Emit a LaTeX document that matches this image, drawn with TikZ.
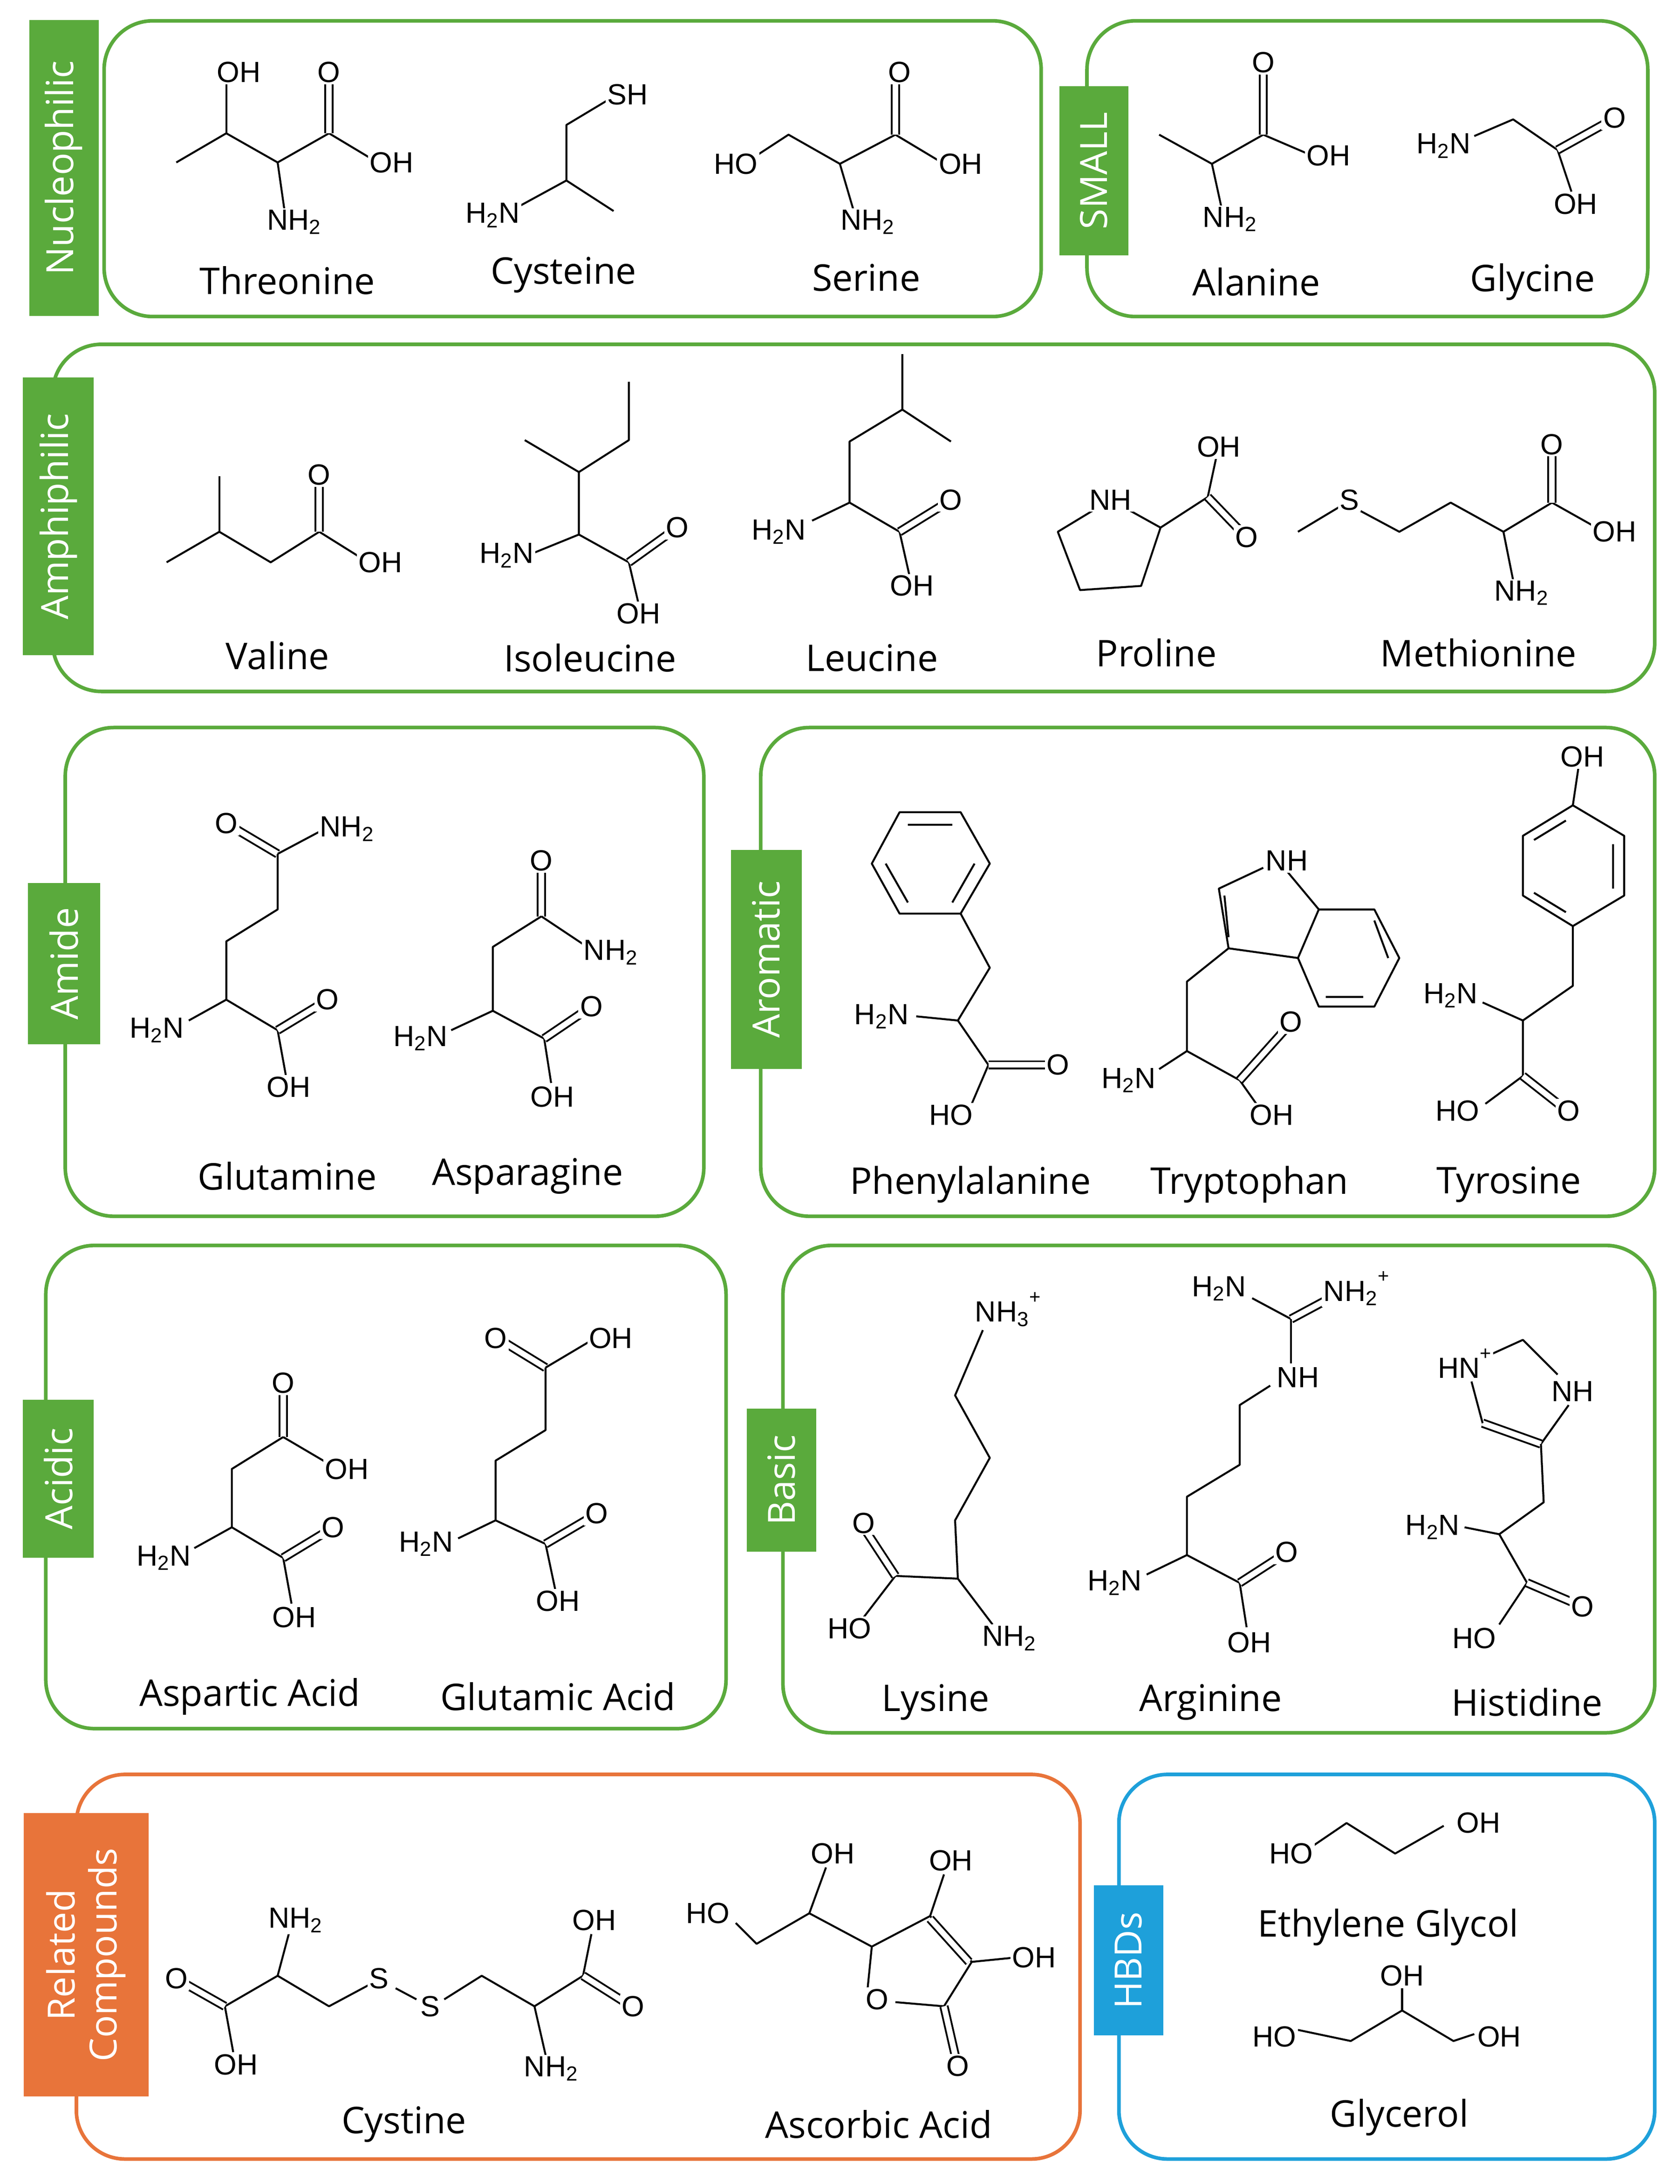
\documentclass[tikz,border=0pt]{standalone}
\usepackage{fontspec}
\setmainfont{Liberation Sans}
\newfontfamily\namefont{Open Sans}
\definecolor{grn}{RGB}{90,170,60}
\definecolor{org}{RGB}{232,116,58}
\definecolor{blu}{RGB}{30,160,218}
\newcommand{\sub}[1]{\textsubscript{#1}}
\begin{document}
\begin{tikzpicture}[x=1pt,y=-1pt,
  box/.style={draw=grn,line width=2.6pt,rounded corners=35pt},
  tag/.style={fill=grn,text=white,rotate=90,inner sep=0pt,font=\namefont\fontsize{27}{30}\selectfont},
  bond/.style={line width=1.4pt,line join=round},
  dbl/.style={line width=1.3pt,double distance=4pt},
  atom/.style={fill=white,inner sep=1.2pt,font=\fontsize{21}{22}\selectfont},
  lbl/.style={font=\namefont\fontsize{26.5}{28}\selectfont}]
\useasboundingbox (0,0) rectangle (1210,1573);

% boxes and tags
\draw[box] (75,15) rectangle (750,228);
\draw[box] (783,15) rectangle (1187,228);
\draw[box] (38,248) rectangle (1192,498);
\draw[box] (47,524) rectangle (507,876);
\draw[box] (548,524) rectangle (1192,876);
\draw[box] (33,897) rectangle (523,1245);
\draw[box] (564,897) rectangle (1192,1248);
\draw[box,draw=org] (55,1278) rectangle (778,1555);
\draw[box,draw=blu] (806,1278) rectangle (1192,1555);
\node[tag,minimum width=213pt,minimum height=50pt] (tNuc) at (46,121) {Nucleophilic};
\node[tag,minimum width=122pt,minimum height=50pt] (tSma) at (788,123) {SMALL};
\node[tag,minimum width=200pt,minimum height=51pt] (tAmp) at (42,372) {Amphiphilic};
\node[tag,minimum width=116pt,minimum height=52pt] (tAmi) at (46,694) {Amide};
\node[tag,minimum width=158pt,minimum height=51pt] (tAro) at (552,691) {Aromatic};
\node[tag,minimum width=114pt,minimum height=51pt] (tAci) at (42,1065) {Acidic};
\node[tag,minimum width=103pt,minimum height=50pt] (tBas) at (563,1066) {Basic};
\node[tag,fill=org,minimum width=204pt,minimum height=90pt,align=center] (tRel) at (62,1408) {Related\\Compounds};
\node[tag,fill=blu,minimum width=108pt,minimum height=50pt] (tHbd) at (813,1412) {HBDs};

% Threonine
\draw[bond] (127,117)--(163,96)--(200,117)--(237,96)--(272,117);
\draw[bond] (163,96)--(163,58); \draw[bond] (200,117)--(205,152);
\draw[dbl] (237,96)--(237,55);
\node[atom] (thrOH) at (172,52) {OH}; \node[atom] (thrO) at (237,52) {O};
\node[atom] (thrOH2) at (282,117) {OH}; \node[atom] (thrN) at (212,160) {NH\sub2};
\node[lbl] (thr) at (207,202) {Threonine};
% Cysteine
\draw[bond] (375,148)--(408,130)--(442,152); \draw[bond] (408,130)--(408,90)--(438,72);
\node[atom] (cysS) at (452,68) {SH}; \node[atom] (cysN) at (355,155) {H\sub2N};
\node[lbl] (cys) at (406,198) {Cysteine};
% Serine
\draw[bond] (545,112)--(568,97)--(605,118)--(645,97)--(680,118);
\draw[bond] (605,118)--(615,152); \draw[dbl] (645,97)--(645,55);
\node[atom] (serHO) at (530,118) {HO}; \node[atom] (serO) at (648,52) {O};
\node[atom] (serOH) at (692,118) {OH}; \node[atom] (serN) at (625,160) {NH\sub2};
\node[lbl] (ser) at (624,200) {Serine};
% Alanine
\draw[bond] (835,97)--(873,118)--(910,97)--(945,112); \draw[bond] (873,118)--(880,150);
\draw[dbl] (910,97)--(910,48);
\node[atom] (alaO) at (910,45) {O}; \node[atom] (alaOH) at (957,112) {OH};
\node[atom] (alaN) at (886,158) {NH\sub2};
\node[lbl] (ala) at (905,203) {Alanine};
% Glycine
\draw[bond] (1062,98)--(1090,86)--(1122,108)--(1132,138); \draw[dbl] (1122,108)--(1158,88);
\node[atom] (glyN) at (1040,105) {H\sub2N}; \node[atom] (glyO) at (1163,85) {O};
\node[atom] (glyOH) at (1135,147) {OH};
\node[lbl] (gly) at (1104,203) {Glycine};

% Valine
\draw[bond] (120,405)--(158,383)--(195,405)--(230,383)--(262,403); \draw[bond] (158,383)--(158,343);
\draw[dbl] (230,383)--(230,345);
\node[atom] (valO) at (230,342) {O}; \node[atom] (valOH) at (274,405) {OH};
\node[lbl] (val) at (200,472) {Valine};
% Isoleucine
\draw[bond] (378,317)--(417,340)--(453,317)--(453,275); \draw[bond] (417,340)--(417,385)--(453,405)--(460,435);
\draw[bond] (417,385)--(385,398); \draw[dbl] (453,405)--(485,382);
\node[atom] (ileN) at (365,400) {H\sub2N}; \node[atom] (ileO) at (488,380) {O};
\node[atom] (ileOH) at (460,442) {OH};
\node[lbl] (ile) at (425,474) {Isoleucine};
% Leucine
\draw[bond] (650,255)--(650,295)--(685,318); \draw[bond] (650,295)--(612,318)--(612,362)--(648,383)--(655,414);
\draw[bond] (612,362)--(585,375); \draw[dbl] (648,383)--(682,362);
\node[atom] (leuN) at (561,383) {H\sub2N}; \node[atom] (leuO) at (685,360) {O};
\node[atom] (leuOH) at (657,422) {OH};
\node[lbl] (leu) at (628,474) {Leucine};
% Proline
\draw[bond] (800,360)--(836,380)--(822,422)--(778,425)--(762,383)--(800,360);
\draw[bond] (836,380)--(870,358)--(876,330); \draw[dbl] (870,358)--(896,385);
\node[atom] (proN) at (800,360) {NH}; \node[atom] (proOH) at (878,322) {OH};
\node[atom] (proO) at (898,387) {O};
\node[lbl] (pro) at (833,470) {Proline};
% Methionine
\draw[bond] (935,383)--(965,365); \draw[bond] (980,368)--(1008,383)--(1045,362)--(1083,383)--(1118,362)--(1150,380);
\draw[bond] (1083,383)--(1090,418); \draw[dbl] (1118,362)--(1118,324);
\node[atom] (metS) at (972,360) {S}; \node[atom] (metO) at (1118,320) {O};
\node[atom] (metOH) at (1163,383) {OH}; \node[atom] (metN) at (1096,427) {NH\sub2};
\node[lbl] (met) at (1065,470) {Methionine};

% Glutamine
\draw[dbl] (200,615)--(168,596); \draw[bond] (200,615)--(232,598);
\draw[bond] (200,615)--(200,655)--(163,678)--(163,720)--(200,742)--(206,775); \draw[bond] (163,720)--(136,735);
\draw[dbl] (200,742)--(233,722);
\node[atom] (glnO) at (163,593) {O}; \node[atom] (glnN) at (250,597) {NH\sub2};
\node[atom] (glnN2) at (113,742) {H\sub2N}; \node[atom] (glnO2) at (236,720) {O};
\node[atom] (glnOH) at (208,783) {OH};
\node[lbl] (gln) at (207,847) {Glutamine};
% Asparagine
\draw[dbl] (390,660)--(390,625); \draw[bond] (390,660)--(420,680);
\draw[bond] (390,660)--(355,682)--(355,728)--(392,748)--(397,780); \draw[bond] (355,728)--(325,742);
\draw[dbl] (392,748)--(423,727);
\node[atom] (asnO) at (390,620) {O}; \node[atom] (asnN) at (440,686) {NH\sub2};
\node[atom] (asnN2) at (303,748) {H\sub2N}; \node[atom] (asnO2) at (426,725) {O};
\node[atom] (asnOH) at (398,790) {OH};
\node[lbl] (asn) at (380,847) {Asparagine};

% Phenylalanine
\draw[bond] (648,585)--(692,585)--(713,622)--(692,658)--(648,658)--(628,622)--cycle;
\draw[bond] (654,594)--(686,594) (702,622)--(686,650) (654,650)--(638,622);
\draw[bond] (692,658)--(713,697)--(690,735)--(712,767)--(700,795); \draw[bond] (690,735)--(660,732);
\draw[dbl] (712,767)--(755,767);
\node[atom] (pheN) at (635,732) {H\sub2N}; \node[atom] (pheO) at (762,767) {O};
\node[atom] (pheHO) at (685,803) {HO};
\node[lbl] (phe) at (699,853) {Phenylalanine};
% Tryptophan
\draw[bond] (925,625)--(950,655)--(935,690)--(885,683)--(878,640)--(910,625);
\draw[bond] (885,675)--(882,645);
\draw[bond] (950,655)--(990,655)--(1008,690)--(990,725)--(950,725)--(935,690);
\draw[bond] (990,663)--(1000,690) (982,718)--(955,718);
\draw[bond] (885,683)--(855,707)--(855,757)--(893,778)--(905,795); \draw[bond] (855,757)--(835,770);
\draw[dbl] (893,778)--(927,740);
\node[atom] (trpN) at (927,620) {NH}; \node[atom] (trpN2) at (813,778) {H\sub2N};
\node[atom] (trpO) at (930,736) {O}; \node[atom] (trpOH) at (916,803) {OH};
\node[lbl] (trp) at (900,853) {Tryptophan};
% Tyrosine
\draw[bond] (1133,580)--(1170,602)--(1170,645)--(1133,667)--(1097,645)--(1097,602)--cycle;
\draw[bond] (1162,608)--(1162,640) (1128,657)--(1105,643) (1105,605)--(1128,591);
\draw[bond] (1133,580)--(1137,553); \draw[bond] (1133,667)--(1133,710)--(1097,735)--(1097,775)--(1070,795);
\draw[bond] (1097,735)--(1068,722); \draw[dbl] (1097,775)--(1125,797);
\node[atom] (tyrOH) at (1140,545) {OH}; \node[atom] (tyrN) at (1045,717) {H\sub2N};
\node[atom] (tyrO) at (1130,800) {O}; \node[atom] (tyrHO) at (1050,800) {HO};
\node[lbl] (tyr) at (1087,853) {Tyrosine};

% Aspartic acid
\draw[dbl] (204,1035)--(204,1000); \draw[bond] (204,1035)--(238,1055);
\draw[bond] (204,1035)--(167,1058)--(167,1100)--(204,1122)--(210,1155); \draw[bond] (167,1100)--(140,1115);
\draw[dbl] (204,1122)--(237,1102);
\node[atom] (aspO) at (204,996) {O}; \node[atom] (aspOH) at (250,1058) {OH};
\node[atom] (aspN) at (118,1122) {H\sub2N}; \node[atom] (aspO2) at (240,1100) {O};
\node[atom] (aspOH2) at (212,1165) {OH};
\node[lbl] (asp) at (180,1222) {Aspartic Acid};
% Glutamic acid
\draw[dbl] (393,985)--(362,966); \draw[bond] (393,985)--(425,966);
\draw[bond] (393,985)--(393,1030)--(357,1052)--(357,1095)--(393,1112)--(400,1145); \draw[bond] (357,1095)--(330,1108);
\draw[dbl] (393,1112)--(427,1092);
\node[atom] (gluO) at (357,964) {O}; \node[atom] (gluOH) at (440,964) {OH};
\node[atom] (gluN) at (307,1112) {H\sub2N}; \node[atom] (gluO2) at (430,1090) {O};
\node[atom] (gluOH2) at (402,1153) {OH};
\node[lbl] (glu) at (402,1222) {Glutamic Acid};

% Lysine
\draw[bond] (708,958)--(688,1005)--(713,1050)--(688,1095)--(690,1137)--(715,1170);
\draw[bond] (690,1137)--(645,1135)--(622,1165); \draw[dbl] (645,1135)--(624,1103);
\node[atom] (lysN) at (726,943) {NH\sub3\raisebox{1.2ex}{\fontsize{14}{14}\selectfont+}};
\node[atom] (lysO) at (622,1097) {O}; \node[atom] (lysHO) at (612,1173) {HO};
\node[atom] (lysN2) at (727,1180) {NH\sub2};
\node[lbl] (lys) at (674,1226) {Lysine};
% Arginine
\draw[bond] (930,950)--(902,935); \draw[dbl] (930,950)--(958,935); \draw[bond] (930,950)--(930,982);
\draw[bond] (915,998)--(893,1012)--(893,1055)--(855,1078)--(855,1120)--(893,1140)--(898,1172);
\draw[bond] (855,1120)--(826,1134); \draw[dbl] (893,1140)--(924,1120);
\node[atom] (argN1) at (878,928) {H\sub2N}; \node[atom] (argN2) at (977,928) {NH\sub2\raisebox{1.2ex}{\fontsize{14}{14}\selectfont+}};
\node[atom] (argN3) at (935,992) {NH}; \node[atom] (argN4) at (803,1140) {H\sub2N};
\node[atom] (argO) at (927,1118) {O}; \node[atom] (argOH) at (900,1183) {OH};
\node[lbl] (arg) at (872,1226) {Arginine};
% Histidine
\draw[bond] (1075,975)--(1097,965)--(1122,990); \draw[bond] (1130,1012)--(1110,1040);
\draw[dbl] (1110,1040)--(1068,1025); \draw[bond] (1068,1025)--(1060,995);
\draw[bond] (1110,1040)--(1112,1082)--(1080,1105)--(1100,1140)--(1080,1170); \draw[bond] (1080,1105)--(1055,1100);
\draw[dbl] (1100,1140)--(1135,1155);
\node[atom] (hisN) at (1055,982) {HN\raisebox{1.2ex}{\fontsize{14}{14}\selectfont+}}; \node[atom] (hisN2) at (1133,1002) {NH};
\node[atom] (hisN3) at (1032,1100) {H\sub2N}; \node[atom] (hisO) at (1140,1157) {O};
\node[atom] (hisHO) at (1062,1180) {HO};
\node[lbl] (his) at (1100,1226) {Histidine};

% Cystine
\draw[bond] (162,1445)--(200,1423)--(237,1445)--(265,1430); \draw[bond] (285,1432)--(300,1440);
\draw[bond] (320,1440)--(347,1423)--(385,1445)--(420,1423)--(426,1393);
\draw[bond] (162,1445)--(168,1478); \draw[bond] (200,1423)--(208,1393); \draw[bond] (385,1445)--(393,1480);
\draw[dbl] (162,1445)--(132,1428); \draw[dbl] (420,1423)--(450,1442);
\node[atom] (cssO) at (127,1425) {O}; \node[atom] (cssOH) at (170,1487) {OH};
\node[atom] (cssN) at (213,1383) {NH\sub2}; \node[atom] (cssS1) at (273,1425) {S};
\node[atom] (cssS2) at (310,1445) {S}; \node[atom] (cssN2) at (397,1490) {NH\sub2};
\node[atom] (cssOH2) at (428,1383) {OH}; \node[atom] (cssO2) at (456,1445) {O};
\node[lbl] (css) at (291,1530) {Cystine};
% Ascorbic acid
\draw[bond] (530,1385)--(545,1400)--(583,1378)--(628,1402)--(670,1380)--(700,1413)--(680,1445)--(645,1442);
\draw[bond] (625,1432)--(628,1402); \draw[bond] (583,1378)--(595,1345);
\draw[dbl] (670,1382)--(698,1413); \draw[bond] (670,1380)--(680,1350); \draw[bond] (700,1413)--(730,1410);
\draw[dbl] (680,1445)--(688,1480);
\node[atom] (ascHO) at (510,1378) {HO}; \node[atom] (ascOH) at (600,1335) {OH};
\node[atom] (ascOH2) at (685,1340) {OH}; \node[atom] (ascOH3) at (745,1410) {OH};
\node[atom] (ascO) at (632,1440) {O}; \node[atom] (ascO2) at (690,1488) {O};
\node[lbl] (asc) at (633,1530) {Ascorbic Acid};

% Ethylene glycol
\draw[bond] (945,1330)--(970,1313)--(1005,1335)--(1040,1315);
\node[atom] (egHO) at (930,1335) {HO}; \node[atom] (egOH) at (1065,1313) {OH};
\node[lbl] (eg) at (1000,1388) {Ethylene Glycol};
% Glycerol
\draw[bond] (935,1462)--(973,1470)--(1010,1448)--(1047,1470)--(1062,1465); \draw[bond] (1010,1448)--(1010,1432);
\node[atom] (glyceHO) at (918,1467) {HO}; \node[atom] (glyceOH) at (1010,1423) {OH};
\node[atom] (glyceOH2) at (1080,1467) {OH};
\node[lbl] (glyce) at (1008,1525) {Glycerol};
\end{tikzpicture}
\end{document}
